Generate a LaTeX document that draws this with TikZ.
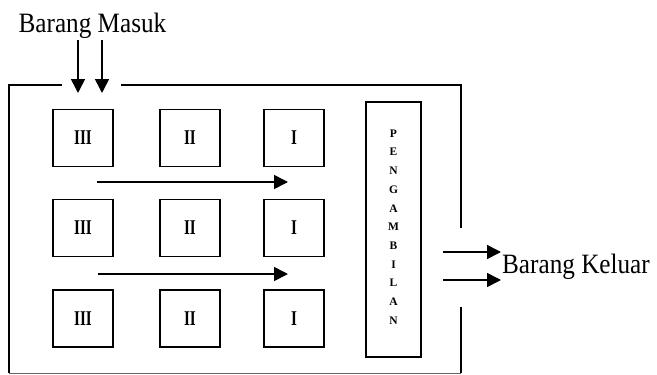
\documentclass[tikz,border=0pt]{standalone}
\usepackage{fontspec}
\setmainfont{Liberation Serif}
\usetikzlibrary{arrows.meta}
\tikzset{
  rack/.style={draw, line width=1.5pt, minimum width=60pt, minimum height=57pt, inner sep=0pt},
  numeral/.style={font=\fontsize{21}{21}\selectfont\bfseries, xscale=0.72},
  flow/.style={line width=1.6pt, -{Triangle[length=14pt,width=14pt]}},
  wall/.style={line width=1.6pt},
  caption/.style={font=\fontsize{28}{28}\selectfont, xscale=0.9, inner sep=0pt}
}
\begin{document}
\begin{tikzpicture}[x=1pt,y=-1pt]
\useasboundingbox (0,0) rectangle (657,375);

% warehouse walls with entry gap on top and exit gap on the right
\draw[wall] (62,85) -- (9,85) -- (9,373);
\draw[line width=0.8pt, black!60] (9,373) -- (461,373);
\draw[wall] (461,373) -- (461,307);
\draw[wall] (461,228) -- (461,85) -- (121,85);

% storage racks
\foreach \r/\y in {1/138, 2/228, 3/318.5}{
  \node[rack] (a\r) at (83,\y) {};
  \node[rack] (b\r) at (190,\y) {};
  \node[rack] (c\r) at (294,\y) {};
  \node[numeral] (na\r) at (a\r) {III};
  \node[numeral] (nb\r) at (b\r) {II};
  \node[numeral] (nc\r) at (c\r) {I};
}

% picking area
\node[draw, line width=1.5pt, minimum width=55pt, minimum height=255pt, inner sep=0pt] (pick) at (393.5,229.5) {};
\node[align=center, font=\fontsize{11.5}{18.7}\selectfont\bfseries, inner sep=0pt] (picktext) at (393.5,227)
  {P\\E\\N\\G\\A\\M\\B\\I\\L\\A\\N};

% labels
\node[caption, anchor=base] (masuk) at (92.5,32) {Barang Masuk};
\node[caption, anchor=base west] (keluar) at (502,273) {Barang Keluar};

% incoming goods
\coordinate (in1s) at (78,40);  \coordinate (in1e) at (78,93);
\coordinate (in2s) at (102,40); \coordinate (in2e) at (102,93);
\draw[flow] (in1s) -- (in1e);
\draw[flow] (in2s) -- (in2e);

% movement between racks
\coordinate (m1s) at (97,182);  \coordinate (m1e) at (288,182);
\coordinate (m2s) at (98,274);  \coordinate (m2e) at (288,274);
\draw[flow] (m1s) -- (m1e);
\draw[flow] (m2s) -- (m2e);

% outgoing goods
\coordinate (o1s) at (443,252); \coordinate (o1e) at (501,252);
\coordinate (o2s) at (443,280); \coordinate (o2e) at (501,280);
\draw[flow] (o1s) -- (o1e);
\draw[flow] (o2s) -- (o2e);
\end{tikzpicture}
\end{document}
